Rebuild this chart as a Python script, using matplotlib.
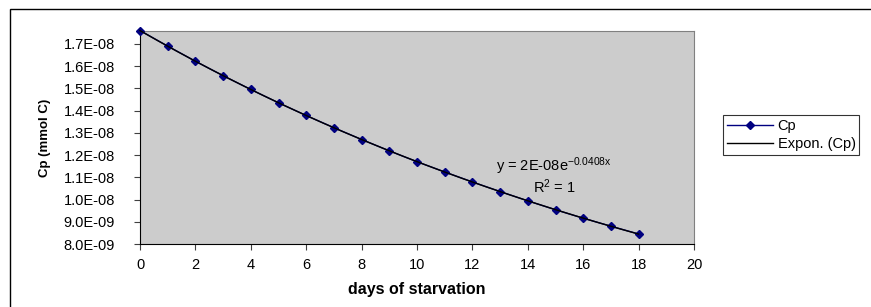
import numpy as np
import matplotlib
matplotlib.use('Agg')
import matplotlib.pyplot as plt
from matplotlib.patches import Rectangle

plt.rcParams['font.family'] = ['Liberation Sans', 'DejaVu Sans']
plt.rcParams['mathtext.default'] = 'regular'

# days of starvation and Cp (mmol C)
days = [0, 1, 2, 3, 4, 5, 6, 7, 8, 9, 10, 11, 12, 13, 14, 15, 16, 17, 18]
cp = [1.760e-08, 1.690e-08, 1.622e-08, 1.557e-08, 1.495e-08, 1.435e-08,
      1.378e-08, 1.323e-08, 1.270e-08, 1.219e-08, 1.170e-08, 1.124e-08,
      1.079e-08, 1.036e-08, 0.994e-08, 0.954e-08, 0.916e-08, 0.880e-08,
      0.845e-08]
xticks = [0, 2, 4, 6, 8, 10, 12, 14, 16, 18, 20]
yticks = [8.0e-09, 9.0e-09, 1.0e-08, 1.1e-08, 1.2e-08, 1.3e-08, 1.4e-08,
          1.5e-08, 1.6e-08, 1.7e-08]
ytick_labels = ['8.0E-09', '9.0E-09', '1.0E-08', '1.1E-08', '1.2E-08',
                '1.3E-08', '1.4E-08', '1.5E-08', '1.6E-08', '1.7E-08']

fig = plt.figure(figsize=(8.71, 3.07), dpi=100)
fig.patches.append(Rectangle((10 / 871, -0.1), 1.2, 1 - 9 / 307 + 0.1,
                             transform=fig.transFigure, fill=False,
                             edgecolor='black', linewidth=1.0))

ax = fig.add_axes([140 / 871, 63 / 307, 554 / 871, 213 / 307])
ax.set_facecolor('#cccccc')

# exponential trendline
x = np.array(days, dtype=float)
b, a = np.polyfit(x, np.log(cp), 1)
xf = np.linspace(0, 18, 200)
ax.plot(days, cp, color='#000080', marker='D', markersize=4,
        linewidth=1.0, label='Cp', zorder=3, clip_on=False)
ax.plot(xf, np.exp(a) * np.exp(b * xf), color='black', linewidth=1.0,
        label='Expon. (Cp)', zorder=4, clip_on=False)

ax.set_xlim(0, 20)
ax.set_ylim(8.0e-09, 1.758e-08)
ax.set_xticks(xticks)
ax.set_yticks(yticks)
ax.set_yticklabels(ytick_labels)
ax.tick_params(labelsize=10.5, direction='out', length=4, width=0.8,
               color='#404040')
ax.tick_params(axis='x', pad=6)
ax.tick_params(axis='y', pad=14)
for s in ax.spines.values():
    s.set_color('#808080')
ax.spines['left'].set_color('black')
ax.spines['bottom'].set_color('black')

ax.set_xlabel('days of starvation', fontsize=11.5, fontweight='bold',
              labelpad=7)
ax.set_ylabel('Cp (mmol C)', fontsize=9.5, fontweight='bold', labelpad=9)

ax.text(14.95, 1.150e-08, 'y = 2E-08e$^{-0.0408x}$', fontsize=10.5,
        ha='center', va='center')
ax.text(14.95, 1.058e-08, 'R$^2$ = 1', fontsize=10.5, ha='center',
        va='center')

leg = ax.legend(loc='upper left', bbox_to_anchor=(723 / 871, 1 - 115 / 307),
                bbox_transform=fig.transFigure, fontsize=10.5, frameon=True,
                fancybox=False, edgecolor='black', handlelength=3.2,
                borderpad=0.25, labelspacing=0.3, handletextpad=0.3,
                borderaxespad=0)
leg.get_frame().set_linewidth(0.8)

fig.savefig('out.png', dpi=100)
